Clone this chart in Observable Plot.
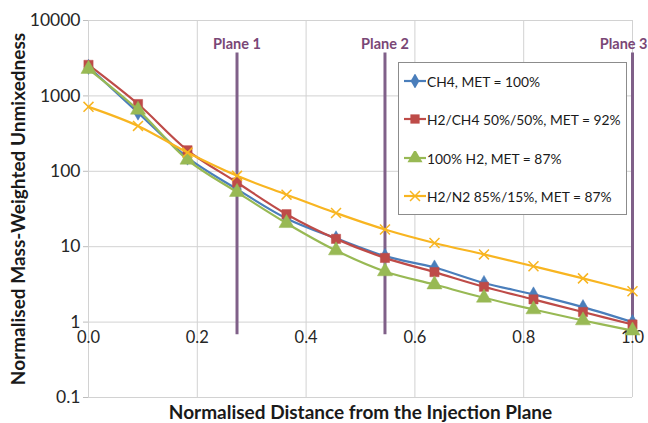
<!DOCTYPE html>
<html><head><meta charset="utf-8">
<script src="https://cdn.jsdelivr.net/npm/d3@7"></script>
<script src="https://cdn.jsdelivr.net/npm/@observablehq/plot@0.6"></script>
<style>
body{margin:0;background:#fff;font-family:Lato,sans-serif;}
#wrap{position:relative;width:648px;height:423px;}
#legend{position:absolute;left:398px;top:62px;width:229px;height:153px;background:#fff;border:1px solid #8c8c8c;box-sizing:border-box;}
.item{position:absolute;left:5px;height:20px;display:flex;align-items:center;font-size:13.8px;color:#1a1a1a;white-space:nowrap;}
.item svg{margin-right:1px;}
</style></head><body><div id="wrap"><div id="legend"></div></div>
<script>
// Data
const distance = [0, 0.091, 0.182, 0.273, 0.364, 0.455, 0.545, 0.636, 0.727, 0.818, 0.909, 1.0];
const seriesNames = ["CH4, MET = 100%", "H2/CH4 50%/50%, MET = 92%", "100% H2, MET = 87%", "H2/N2 85%/15%, MET = 87%"];
const ch4     = [2430, 600, 152, 58, 23.7, 12.9, 7.5, 5.3, 3.3, 2.33, 1.58, 1.0];
const h2ch4   = [2580, 780, 190, 71, 27, 12.7, 7.1, 4.6, 2.94, 2.0, 1.36, 0.93];
const h2      = [2270, 653, 142, 53, 20.5, 8.9, 4.7, 3.15, 2.1, 1.47, 1.05, 0.77];
const h2n2    = [716, 400, 177, 87, 49, 28, 16.9, 11.2, 7.9, 5.5, 3.8, 2.57];
const planeNames = ["Plane 1", "Plane 2", "Plane 3"];
const planeX = [0.273, 0.545, 1.0];
const yTicks = [0.1, 1, 10, 100, 1000, 10000];
const xTicks = [0, 0.2, 0.4, 0.6, 0.8, 1.0];
const xAxisCross = 1;

const colors = ["#4a7ebb", "#be4b48", "#98b954", "#f8b521"];
const symbols = ["diamond", "square", "triangle", "times"];
const radii = [4.6, 5.2, 5.6, 4.6];
const values = [ch4, h2ch4, h2, h2n2];

const series = values.map((vals, i) => vals.map((v, j) => ({x: distance[j], y: v, s: seriesNames[i]})));

const grid = "#d2d2d2";
const marks = [
  Plot.gridY(yTicks, {stroke: grid, strokeOpacity: 1}),
  Plot.ruleX(xTicks, {stroke: grid, strokeOpacity: 1}),
  Plot.axisY(yTicks, {tickFormat: d => String(d), tickSize: 5, tickPadding: 3, fontSize: 17.5, stroke: "#bdbdbd", fill: "#262626", label: null}),
  Plot.text(xTicks, {x: d => d, y: xAxisCross, dy: 16, text: d => d.toFixed(1), fontSize: 16.5, fill: "#262626"}),
  Plot.text(["Normalised Distance from the Injection Plane"], {text: d => d, frameAnchor: "bottom", textAnchor: "middle", lineAnchor: "middle", dy: 15, fontSize: 19, fontWeight: "bold", fill: "#1a1a1a"}),
  Plot.text(["Normalised Mass-Weighted Unmixedness"], {text: d => d, frameAnchor: "left", textAnchor: "middle", lineAnchor: "middle", dx: -70, rotate: -90, fontSize: 19, fontWeight: "bold", fill: "#1a1a1a"}),
  Plot.ruleX(planeX, {x: d => d, y1: 0.68, y2: 3700, stroke: "#806089", strokeWidth: 3}),
  Plot.text(planeNames.slice(0, 2), {x: (d, i) => planeX[i], frameAnchor: "top", lineAnchor: "middle", dy: 24, text: d => d, fontSize: 14.5, fontWeight: "bold", fill: "#7a4776"}),
  Plot.text(planeNames.slice(2), {x: (d, i) => planeX[2 + i], frameAnchor: "top", lineAnchor: "middle", dy: 24, dx: 15, textAnchor: "end", text: d => d, fontSize: 14.5, fontWeight: "bold", fill: "#7a4776"})
];
series.forEach((data, i) => {
  marks.push(Plot.line(data, {x: "x", y: "y", stroke: colors[i], strokeWidth: 2.2, curve: "catmull-rom"}));
  if (symbols[i] === "times") {
    marks.push(Plot.dot(data, {x: "x", y: "y", symbol: symbols[i], r: radii[i], stroke: colors[i], strokeWidth: 1.5, fill: "none"}));
  } else {
    marks.push(Plot.dot(data, {x: "x", y: "y", symbol: symbols[i], r: radii[i], fill: colors[i], stroke: colors[i], strokeWidth: 0.5}));
  }
});

const chart = Plot.plot({
  width: 648, height: 423,
  marginLeft: 88, marginRight: 16, marginTop: 20, marginBottom: 26,
  style: {fontFamily: "Lato, sans-serif", background: "#fff", overflow: "visible"},
  x: {domain: [0, 1], axis: null},
  y: {type: "log", domain: [0.1, 10000], axis: null},
  marks
});
document.getElementById("wrap").prepend(chart);

// Legend (HTML overlay inside the plot area)
const legend = document.getElementById("legend");
const itemTops = [8, 46, 85, 123];
seriesNames.forEach((name, i) => {
  const div = document.createElement("div");
  div.className = "item";
  div.style.top = itemTops[i] + "px";
  const svg = d3.create("svg").attr("width", 22).attr("height", 14);
  svg.append("line").attr("x1", 0).attr("x2", 22).attr("y1", 7).attr("y2", 7).attr("stroke", colors[i]).attr("stroke-width", 2.2);
  const symMap = {diamond: d3.symbolDiamond, square: d3.symbolSquare, triangle: d3.symbolTriangle, times: d3.symbolTimes};
  const p = d3.symbol(symMap[symbols[i]], Math.PI * radii[i] * radii[i])();
  const path = svg.append("path").attr("d", p).attr("transform", "translate(11,7)");
  if (symbols[i] === "times") path.attr("fill", "none").attr("stroke", colors[i]).attr("stroke-width", 1.5);
  else path.attr("fill", colors[i]);
  div.appendChild(svg.node());
  const span = document.createElement("span");
  span.textContent = name;
  div.appendChild(span);
  legend.appendChild(div);
});
</script></body></html>
